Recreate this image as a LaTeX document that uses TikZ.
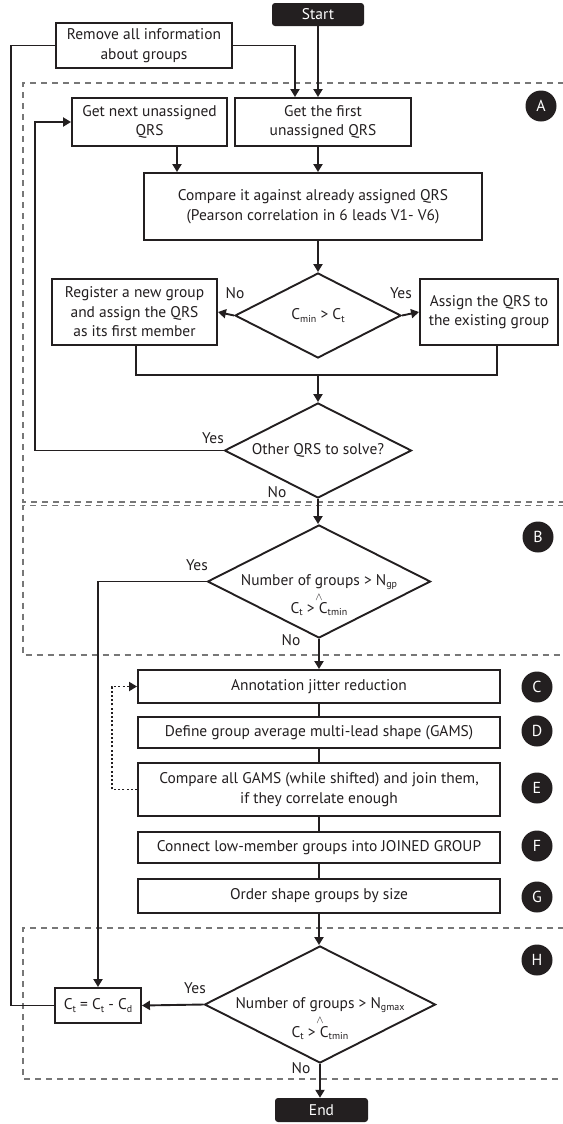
\documentclass[tikz,border=0pt]{standalone}
\usepackage{fontspec}
\setmainfont{PT Sans}
\usetikzlibrary{shapes.geometric,arrows.meta}
\definecolor{ink}{HTML}{231F20}
\definecolor{dashgray}{HTML}{777777}
\newcommand{\lo}[1]{\raisebox{-0.3ex}{\fontsize{10}{10}\selectfont #1}}
\newcommand{\andsym}{{\fontsize{11}{11}\selectfont$\wedge$}}
\begin{document}
\begin{tikzpicture}[x=1bp,y=-1bp,
  font=\fontsize{15.5}{19.5}\selectfont,
  box/.style={draw=ink, line width=1.9bp, fill=white, text=ink, align=center, inner sep=0pt},
  term/.style={fill=ink, rounded corners=3bp, text=white, inner sep=0pt},
  dia/.style={draw=ink, line width=1.9bp, fill=white, diamond, inner sep=0pt},
  txt/.style={text=ink, inner sep=0pt, align=center},
  lab/.style={text=ink, inner sep=0pt},
  letter/.style={circle, fill=ink, text=white, minimum size=31bp, inner sep=0pt, font=\fontsize{16}{16}\selectfont},
  link/.style={draw=ink, line width=1.9bp},
  arr/.style={link, -{Triangle[length=8bp,width=9bp]}},
  dotarr/.style={draw=ink, line width=1.8bp, dash pattern=on 2bp off 2.2bp, -{Triangle[length=8bp,width=9bp]}},
  region/.style={draw=dashgray, line width=1.4bp, dash pattern=on 6bp off 5bp}
]
\useasboundingbox (0,0) rectangle (563,1124);

% dashed regions
\draw[region] (575,83) -- (23,83) -- (23,502) -- (575,502);
\draw[region] (575,505.5) -- (23,505.5) -- (23,655) -- (575,655);
\draw[region] (575,928) -- (23,928) -- (23,1079) -- (575,1079);

% nodes
\node[term, minimum width=92bp, minimum height=23bp] (start) at (318,14.5) {Start};
\node[box, minimum width=176bp, minimum height=45bp] (remove) at (144,45.5) {Remove all information\\about groups};
\node[box, minimum width=155bp, minimum height=48bp] (next) at (149.5,122) {Get next unassigned\\QRS};
\node[box, minimum width=176bp, minimum height=48bp] (first) at (323,122) {Get the first\\unassigned QRS};
\node[box, minimum width=338bp, minimum height=67bp] (compare) at (313,206.5) {Compare it against already assigned QRS\\(Pearson correlation in 6 leads V1- V6)};
\node[dia, minimum width=166bp, minimum height=85bp] (d1) at (318,315.5) {};
\node[txt] (d1t) at (318,315.5) {C\lo{min} > C\lo{t}};
\node[box, minimum width=165bp, minimum height=66bp] (register) at (134.5,312) {Register a new group\\and assign the QRS\\as its first member};
\node[box, minimum width=138bp, minimum height=66bp] (assign) at (489,312) {Assign the QRS to\\the existing group};
\node[dia, minimum width=187bp, minimum height=95bp] (d2) at (318,450.5) {};
\node[txt] (d2t) at (318,450.5) {Other QRS to solve?};
\node[dia, minimum width=223bp, minimum height=113bp] (d3) at (319,581.5) {};
\node[txt] (d3a) at (319,582) {Number of groups > N\lo{gp}};
\node[txt] (d3b) at (319,597) {\andsym};
\node[txt] (d3c) at (319,609) {C\lo{t} > C\lo{tmin}};
\node[box, minimum width=362bp, minimum height=33bp] (C) at (319,686.5) {Annotation jitter reduction};
\node[box, minimum width=362bp, minimum height=31bp] (D) at (319,732.5) {Define group average multi-lead shape (GAMS)};
\node[box, minimum width=362bp, minimum height=53bp] (E) at (319,789.5) {Compare all GAMS (while shifted) and join them,\\if they correlate enough};
\node[box, minimum width=362bp, minimum height=31bp] (F) at (319,847.5) {Connect low-member groups into JOINED GROUP};
\node[box, minimum width=362bp, minimum height=34bp] (G) at (319,896) {Order shape groups by size};
\node[dia, minimum width=231bp, minimum height=117bp] (d4) at (320,1004.5) {};
\node[txt] (d4a) at (320,1005) {Number of groups > N\lo{gmax}};
\node[txt] (d4b) at (320,1020) {\andsym};
\node[txt] (d4c) at (320,1033) {C\lo{t} > C\lo{tmin}};
\node[box, minimum width=86bp, minimum height=35bp] (ct) at (98,1005.5) {C\lo{t} = C\lo{t} - C\lo{d}};
\node[term, minimum width=93bp, minimum height=24bp] (end) at (321.5,1110) {End};

% letters
\node[letter] (la) at (541,106) {A};
\node[letter] (lb) at (538,537) {B};
\node[letter] (lc) at (537,687) {C};
\node[letter] (ld) at (537,731) {D};
\node[letter] (le) at (537,788) {E};
\node[letter] (lf) at (537,846) {F};
\node[letter] (lg) at (537,897) {G};
\node[letter] (lh) at (537,960) {H};

% yes / no labels
\node[lab] (d1no) at (235,293) {No};
\node[lab] (d1yes) at (401,293) {Yes};
\node[lab] (d2yes) at (213,438) {Yes};
\node[lab] (d2no) at (277,492) {No};
\node[lab] (d3yes) at (197,565) {Yes};
\node[lab] (d3no) at (291,640) {No};
\node[lab] (d4yes) at (195,988) {Yes};
\node[lab] (d4no) at (301,1068) {No};

% connectors
\draw[arr] (start.south) -- (start.south |- first.north);
\draw[arr] (remove.east) -| ([xshift=-28bp]first.north);
\draw[arr] ([xshift=27.5bp]next.south) -- ([xshift=27.5bp]next.south |- compare.north);
\draw[arr] ([xshift=-5bp]first.south) -- ([xshift=-5bp]first.south |- compare.north);
\draw[arr] (d1.north |- compare.south) -- (d1.north);
\draw[arr] (d1.west) -- (register.east);
\draw[arr] (d1.east) -- (assign.west);
\coordinate (merge) at (318,375);
\draw[link] ([xshift=1.5bp]register.south) |- (merge) -| ([xshift=8bp]assign.south);
\draw[arr] (merge) -- (d2.north);
\draw[arr] (d2.west) -| ([xshift=-36bp]next.west) -- (next.west);
\draw[arr] (d2.south) -- (d2.south |- d3.north);
\draw[arr] (d3.west) -| (ct.north);
\draw[arr] (d3.south) -- (d3.south |- C.north);
\draw[link] (C.south) -- (D.north);
\draw[link] (D.south) -- (E.north);
\draw[link] (E.south) -- (F.north);
\draw[link] (F.south) -- (G.north);
\draw[arr] (G.south) -- (G.south |- d4.north);
\draw[arr] (d4.west) -- (ct.east);
\draw[arr] (d4.south) -- (d4.south |- end.north);
\draw[link] (ct.west) -| ([xshift=-44bp]remove.west) -- (remove.west);
\draw[dotarr] (E.west) -| ([xshift=-25bp]C.west) -- (C.west);
\end{tikzpicture}
\end{document}
